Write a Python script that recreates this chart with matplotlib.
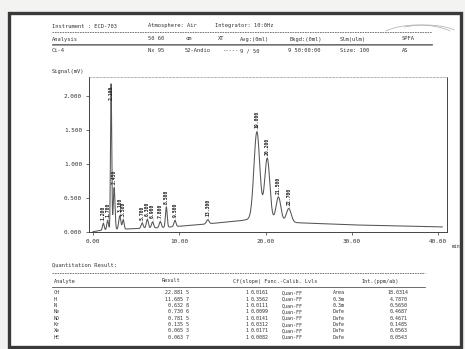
import numpy as np
import matplotlib
matplotlib.use("Agg")
import matplotlib.pyplot as plt
from matplotlib.patches import Rectangle, Arc
from matplotlib.lines import Line2D

# ---- chromatogram data ----
peak_times = [1.2, 1.7, 2.1, 2.45, 3.1, 3.5, 5.7, 6.3, 6.9, 7.8, 8.5, 9.5, 13.3,
              19.0, 20.2, 21.5, 22.7]
peak_heights = [0.10, 0.14, 2.15, 0.62, 0.20, 0.14, 0.08, 0.13, 0.09, 0.09, 0.30,
                0.09, 0.06, 1.30, 0.92, 0.36, 0.20]
peak_widths = [0.10, 0.10, 0.07, 0.10, 0.12, 0.10, 0.12, 0.12, 0.12, 0.12, 0.10,
               0.12, 0.15, 0.34, 0.30, 0.28, 0.28]
baseline_t = [0.0, 1.0, 4.0, 8.0, 12.0, 17.0, 18.0, 24.0, 30.0, 40.5]
baseline_v = [0.00, 0.02, 0.04, 0.06, 0.10, 0.16, 0.18, 0.13, 0.10, 0.07]

x_ticks = [0, 10, 20, 30, 40]
y_ticks = [0.0, 0.5, 1.0, 1.5, 2.0]

# ---- report header / quantitation table ----
header_rows = [
    [(52, "Instrument : ECD-703"), (148, "Atmosphere: Air"), (215, "Integrator: 10:0Hz")],
    [(52, "Analysis"), (148, "50 60"), (185, "cm"), (218, "XT"), (240, "Avg:(0ml)"),
     (290, "Bkgd:(0ml)"), (340, "Slm(ulm)"), (402, "SPFA")],
    [(52, "Ci-4"), (148, "Nx 95"), (185, "52-Andio"), (222, "-----"), (240, "9 / 50"),
     (288, "9 50:00:00"), (340, "Size: 100"), (402, "AS")],
]
analytes = ["CH", "H", "N", "Ne", "NO", "Kr", "Xe", "HE"]
results = ["22.881 5", "11.685 7", "0.632 8", "0.730 6", "0.781 5", "0.135 5", "0.065 3", "0.063 7"]
slopes = ["0.0161", "0.3562", "0.0111", "0.0099", "0.0141", "0.0312", "0.0171", "0.0082"]
methods = ["Area", "0.3m", "0.3m", "Dafe", "Dafe", "Dafe", "Dafe", "Dafe"]
intensities = ["18.0314", "4.7870", "0.5650", "0.4687", "0.4671", "0.1485", "0.0563", "0.0543"]

W, H = 465, 349
fig = plt.figure(figsize=(W / 100, H / 100), dpi=100)
fig.patch.set_facecolor("#f3f3f1")


def fx(px):
    return px / W


def fy(py):
    return 1 - py / H


ink = "#333333"
mono = "DejaVu Sans Mono"

# page frame
fig.patches.append(Rectangle((fx(9), fy(347)), fx(461) - fx(9), fy(13) - fy(347),
                             transform=fig.transFigure, facecolor="white",
                             edgecolor="#3a3a3a", linewidth=2.4, zorder=-10))

# pen marks in the top-right corner
for cx, cy, w, h, a1, a2 in [(418, 40, 80, 30, 20, 160), (425, 36, 70, 22, 15, 150)]:
    fig.patches.append(Arc((fx(cx), fy(cy)), fx(w), h / H, theta1=a1, theta2=a2,
                           transform=fig.transFigure, color="#aaaaaa", lw=0.5))

# header
row_y = [26, 39, 51]
for y, row in zip(row_y, header_rows):
    for x, txt in row:
        fig.text(fx(x), fy(y), txt, fontsize=3.9, family=mono, color=ink,
                 va="center", ha="left")
fig.lines.append(Line2D([fx(52), fx(432)], [fy(32), fy(32)], transform=fig.transFigure,
                        color="#666", lw=0.6, ls=(0, (2, 1))))
fig.lines.append(Line2D([fx(52), fx(432)], [fy(43.5), fy(43.5)], transform=fig.transFigure,
                        color="#555", lw=0.6))
fig.lines.append(Line2D([fx(52), fx(432)], [fy(45), fy(45)], transform=fig.transFigure,
                        color="#777", lw=0.5))
fig.text(fx(52), fy(72), "Signal(mV)", fontsize=3.9, family=mono, color=ink,
         va="center", ha="left")

# chromatogram axes
ax = fig.add_axes([fx(89), fy(232), fx(447) - fx(89), fy(77) - fy(232)], zorder=5)
ax.set_facecolor("none")
xmin = -4 / 8.625
xmax = 40 + 9 / 8.625
ymin, ymax = -0.005, 2.28
ax.set_xlim(xmin, xmax)
ax.set_ylim(ymin, ymax)

t = np.linspace(0, 40.5, 6000)
signal = np.interp(t, baseline_t, baseline_v)
for pt, ph, pw in zip(peak_times, peak_heights, peak_widths):
    signal = signal + ph * np.exp(-0.5 * ((t - pt) / pw) ** 2)
ax.plot(t, signal, color="#555", lw=0.75)

# retention-time labels above each peak
for pt, ph in zip(peak_times, peak_heights):
    apex = np.interp(pt, t, signal)
    label = f"{pt:.3f}"
    if apex + 0.3 > ymax:
        ax.text(pt, ymax - 0.12, label, rotation=90, fontsize=3.5, family=mono,
                color="#222", ha="center", va="top", fontweight="bold")
    else:
        ax.plot([pt, pt], [apex, apex + 0.05], color="#666", lw=0.4, ls=(0, (1, 1)))
        ax.text(pt, apex + 0.05, label, rotation=90, fontsize=3.5, family=mono,
                color="#222", ha="center", va="bottom", fontweight="bold")

ax.set_xticks(x_ticks)
ax.set_xticklabels([f"{v:.2f}" for v in x_ticks])
ax.set_yticks(y_ticks)
ax.set_yticklabels([f"{v:.3f}" for v in y_ticks])
ax.tick_params(direction="out", length=2, width=0.5, colors="#333", labelsize=4.3,
               pad=3)
for lab in ax.get_xticklabels() + ax.get_yticklabels():
    lab.set_family(mono)
for side in ["left", "bottom", "right"]:
    ax.spines[side].set_color("#444")
    ax.spines[side].set_linewidth(0.7)
ax.spines["top"].set_color("#999")
ax.spines["top"].set_linewidth(0.5)
ax.spines["top"].set_linestyle((0, (3, 2)))
fig.text(fx(452), fy(246), "min", fontsize=3.4, family=mono, color=ink,
         va="center", ha="left")

# quantitation table
fig.text(fx(52), fy(265), "Quantitation Result:", fontsize=3.9, family=mono,
         color=ink, va="center", ha="left")
fig.lines.append(Line2D([fx(52), fx(425)], [fy(273), fy(273)], transform=fig.transFigure,
                        color="#666", lw=0.6, ls=(0, (2, 1))))
head_y = 281
fig.text(fx(54), fy(head_y), "Analyte", fontsize=3.7, family=mono, color=ink, va="center")
fig.text(fx(162), fy(head_y), "Result", fontsize=3.7, family=mono, color=ink, va="center")
fig.text(fx(233), fy(head_y), "Cf(slope) Func.-Calib. Lvls", fontsize=3.7, family=mono,
         color=ink, va="center")
fig.text(fx(362), fy(head_y), "Int.(ppm/ab)", fontsize=3.7, family=mono, color=ink,
         va="center")
fig.lines.append(Line2D([fx(52), fx(425)], [fy(287), fy(287)], transform=fig.transFigure,
                        color="#555", lw=0.6))

for i, (a, r, s, m, v) in enumerate(zip(analytes, results, slopes, methods, intensities)):
    y = fy(293 + i * 6.3)
    kw = dict(fontsize=3.6, family=mono, color=ink, va="center")
    fig.text(fx(54), y, a, ha="left", **kw)
    fig.text(fx(189), y, r, ha="right", **kw)
    fig.text(fx(245), y, "1", ha="left", **kw)
    fig.text(fx(251), y, s, ha="left", **kw)
    fig.text(fx(282), y, "Quan-FF", ha="left", **kw)
    fig.text(fx(345), y, m, ha="right", **kw)
    fig.text(fx(408), y, v, ha="right", **kw)

fig.savefig("out.png", dpi=100, facecolor=fig.get_facecolor())
